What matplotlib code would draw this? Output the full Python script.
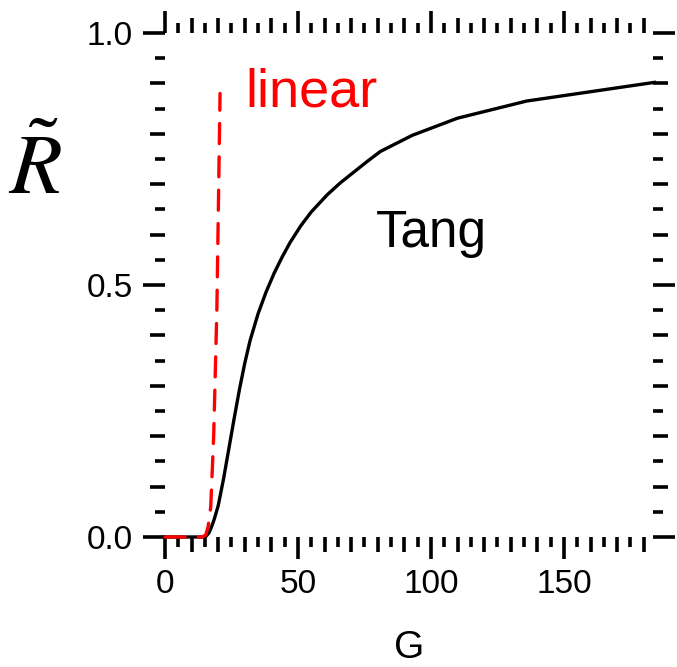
import numpy as np
import matplotlib
matplotlib.use("Agg")
import matplotlib.pyplot as plt
from matplotlib.ticker import FuncFormatter

plt.rcParams['font.family'] = ['Liberation Sans', 'DejaVu Sans']
plt.rcParams['mathtext.fontset'] = 'stix'

# Tang response curve
tang_g = [0, 14, 15.5, 16.5, 17.5, 18.5, 20, 22, 24, 26, 28, 30, 32, 35, 38,
          41, 44, 47, 51, 55, 61, 66, 71, 76, 81, 93, 110, 136, 184]
tang_r = [0, 0, 0.002, 0.008, 0.02, 0.035, 0.062, 0.115, 0.175, 0.235, 0.293,
          0.345, 0.39, 0.443, 0.486, 0.523, 0.555, 0.584, 0.617, 0.645, 0.679,
          0.703, 0.724, 0.745, 0.765, 0.797, 0.831, 0.865, 0.902]

# linear response curve
lin_g = [0, 14, 15.3, 16.2, 17.2, 18.3, 19.5, 20.7]
lin_r = [0, 0, 0.004, 0.02, 0.06, 0.2, 0.45, 0.88]

x_major = [0, 50, 100, 150]
y_major = [0.0, 0.5, 1.0]

fig = plt.figure(figsize=(6.77, 6.67), dpi=100)
ax = fig.add_axes([165 / 677, 130 / 667, 488 / 677, 504 / 667])

ax.plot(tang_g, tang_r, color='black', lw=2.4, clip_on=False, zorder=3,
        solid_joinstyle='round')
ax.plot(lin_g, lin_r, color='#ff0000', lw=2.4, dashes=(6.0, 4.0),
        dash_capstyle='round', clip_on=False, zorder=4)

ax.set_xlim(0, 183.5)
ax.set_ylim(0, 1.0)

for s in ax.spines.values():
    s.set_visible(False)

ax.set_xticks(np.arange(0, 181, 10))
ax.set_xticks(np.arange(5, 184, 10), minor=True)
ax.set_yticks(np.round(np.arange(0, 1.001, 0.1), 2))
ax.set_yticks(np.round(np.arange(0.05, 1.0, 0.1), 2), minor=True)

ax.xaxis.set_major_formatter(FuncFormatter(
    lambda v, p: f"{v:.0f}" if any(abs(v - m) < 1e-6 for m in x_major) else ""))
ax.yaxis.set_major_formatter(FuncFormatter(
    lambda v, p: f"{v:.1f}" if any(abs(v - m) < 1e-6 for m in y_major) else ""))

ax.tick_params(which='both', direction='out', top=True, right=True,
               width=2.6, color='black')
ax.tick_params(which='major', length=16, labelsize=24, pad=7)
ax.tick_params(which='minor', length=7)

# intermediate tick length for the unlabelled major ticks
for tick, loc in zip(ax.xaxis.get_major_ticks(), ax.get_xticks()):
    if not any(abs(loc - m) < 1e-6 for m in x_major):
        tick.tick1line.set_markersize(11)
        tick.tick2line.set_markersize(11)
for tick, loc in zip(ax.yaxis.get_major_ticks(), ax.get_yticks()):
    if not any(abs(loc - m) < 1e-6 for m in y_major):
        tick.tick1line.set_markersize(11)
        tick.tick2line.set_markersize(11)

ax.text(30.1, 0.855, "linear", color='#ff0000', fontsize=39)
ax.text(79.2, 0.576, "Tang", color='black', fontsize=37)

fig.text(409 / 677, 1 - 648 / 667, "G", fontsize=28, ha='center', va='center')
fig.text(35 / 677, 1 - 172 / 667, r"$\tilde{R}$", fontsize=62,
         ha='center', va='center')

fig.savefig("out.png", dpi=100)
